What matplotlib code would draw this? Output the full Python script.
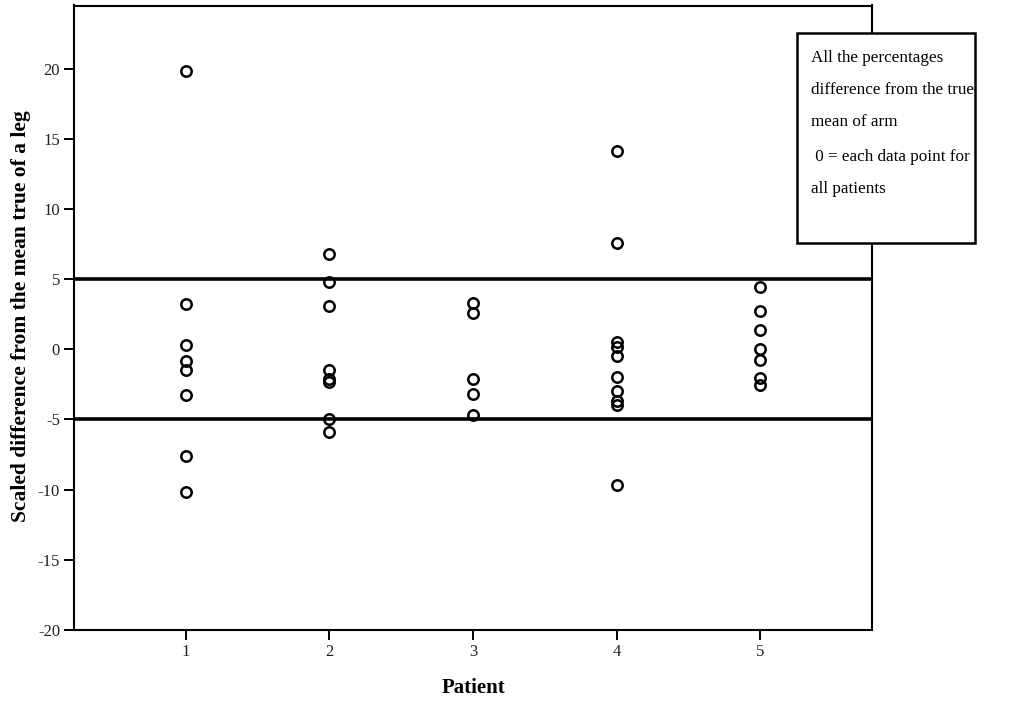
import matplotlib
matplotlib.use("Agg")
import matplotlib.pyplot as plt
from matplotlib.patches import Rectangle

patients = [1, 2, 3, 4, 5]
p1 = [19.85, 3.22, 0.30, -0.85, -1.5, -3.29, -7.61, -10.16]
p2 = [6.8, 4.8, 3.08, -1.45, -2.15, -2.3, -4.95, -5.9]
p3 = [3.29, 2.60, -2.10, -3.19, -4.67]
p4 = [14.15, 7.55, 0.55, 0.2, -0.45, -2.0, -3.0, -3.7, -4.0, -9.66]
p5 = [4.41, 2.74, 1.37, -0.01, -0.77, -2.07, -2.55]
series = [p1, p2, p3, p4, p5]
ref_lines = [5, -5]
yticks = [-20, -15, -10, -5, 0, 5, 10, 15, 20]
legend_lines = ["All the percentages",
                "difference from the true",
                "mean of arm",
                " 0 = each data point for",
                "all patients"]

serif = ["Liberation Serif", "DejaVu Serif"]

fig = plt.figure(figsize=(10.24, 7.01), dpi=100)
ax = fig.add_axes([74/1024, 1-630/701, (872-74)/1024, (630-5.5)/701])

for p, vals in zip(patients, series):
    ax.plot([p]*len(vals), vals, linestyle="none", marker="o", ms=7.5,
            mfc="none", mec="black", mew=1.8)

for r in ref_lines:
    ax.axhline(r, color="black", lw=2.6)

ax.set_xlim(0.22, 5.78)
ax.set_ylim(-20, 24.5)
ax.set_xticks(patients)
ax.set_xticklabels([str(p) for p in patients], fontfamily=serif, fontsize=12,
                   color="#222222")
ax.set_yticks(yticks)
ax.set_yticklabels([str(t) for t in yticks], fontfamily=serif, fontsize=12,
                   color="#222222")
for s in ax.spines.values():
    s.set_linewidth(1.5)
ax.tick_params(length=7, width=1.4, pad=3)

fig.text(21/1024, 1-316/701, "Scaled difference from the mean true of a leg",
         rotation=90, ha="center", va="center", fontfamily=serif,
         fontweight="bold", fontsize=15.5)
fig.text(473/1024, 1-688/701, "Patient", ha="center", va="center",
         fontfamily=serif, fontweight="bold", fontsize=15)

rect = Rectangle((797/1024, 1-243/701), (975-797)/1024, (243-33)/701,
                 transform=fig.transFigure, facecolor="white",
                 edgecolor="black", lw=1.8, zorder=5)
fig.add_artist(rect)
ys = [58, 90, 122, 157, 189]
for t, y in zip(legend_lines, ys):
    fig.text(811/1024, 1-y/701, t, ha="left", va="center",
             fontfamily=serif, fontsize=12.3, zorder=6)

fig.savefig("out.png", dpi=100)
